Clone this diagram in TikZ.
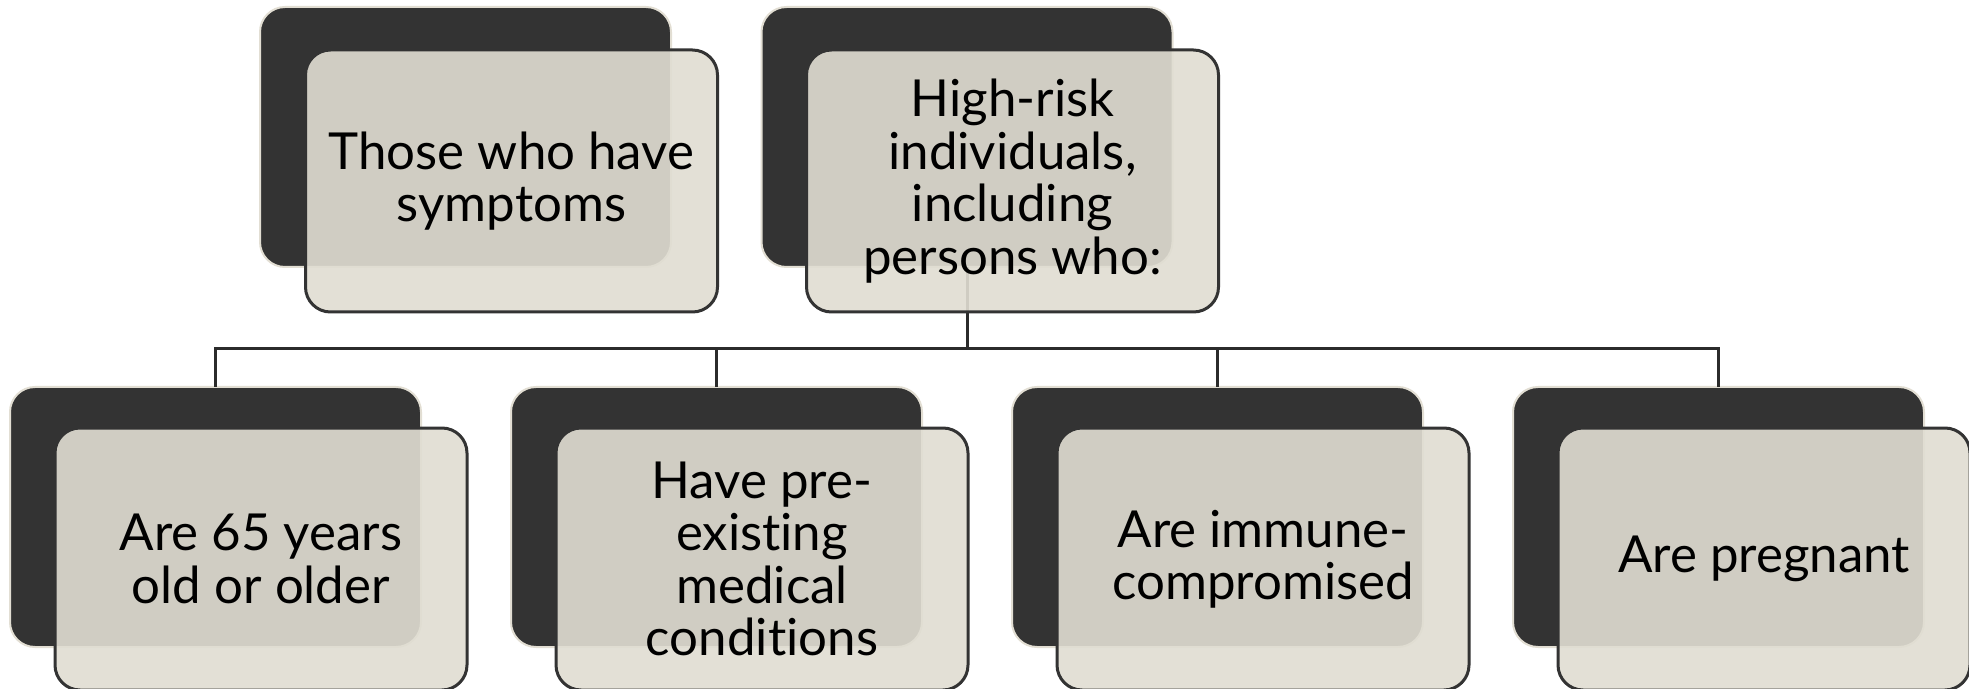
\documentclass[tikz,border=0pt]{standalone}
\usepackage{fontspec}
\setmainfont{Lato}[Ligatures={NoCommon}]
\definecolor{darkbox}{HTML}{333333}
\definecolor{edgelight}{HTML}{E2DED3}
\definecolor{frontfill}{RGB}{224,221,210}
\definecolor{frontedge}{HTML}{333333}
\definecolor{conncol}{HTML}{2B2B2B}
\tikzset{
  backbox/.style={draw=edgelight, line width=1pt, fill=darkbox, rounded corners=12.5pt,
    minimum width=205.5pt, minimum height=130pt, inner sep=0pt, outer sep=0pt},
  frontbox/.style={draw=frontedge, line width=1.5pt, fill=frontfill, fill opacity=0.91,
    text opacity=1, rounded corners=12.5pt, minimum width=206pt, minimum height=131pt,
    inner sep=0pt, outer sep=0pt, align=center,
    font=\fontsize{25.5pt}{26.2pt}\selectfont},
  conn/.style={draw=conncol, line width=1.5pt},
}
\begin{document}
\begin{tikzpicture}[x=0.5pt,y=-0.5pt]
\useasboundingbox (0,0) rectangle (1969,689);
% back boxes
\node[backbox] (t1b) at (465.5,137) {};
\node[backbox] (t2b) at (967,137) {};
\node[backbox] (b1b) at (215.5,517) {};
\node[backbox] (b2b) at (716.5,517) {};
\node[backbox] (b3b) at (1217.5,517) {};
\node[backbox] (b4b) at (1718.5,517) {};
% connectors
\coordinate (junc) at (967,349);
\draw[conn] (t2b.south) -- (junc);
\draw[conn] (junc) -| (b1b.north);
\draw[conn] (junc) -| (b2b.north);
\draw[conn] (junc) -| (b3b.north);
\draw[conn] (junc) -| (b4b.north);
% front boxes
\node[frontbox] (t1f) at (511.5,181) {Those who have\\symptoms};
\node[frontbox] (t2f) at (1012.5,181) {High-risk\\individuals,\\including\\persons who:};
\node[frontbox] (b1f) at (261,559) {Are 65 years\\old or older};
\node[frontbox] (b2f) at (762,559) {Have pre-\\existing\\medical\\conditions};
\node[frontbox] (b3f) at (1263,559) {Are immune-\\compromised};
\node[frontbox] (b4f) at (1764,559) {Are pregnant};
\end{tikzpicture}
\end{document}
